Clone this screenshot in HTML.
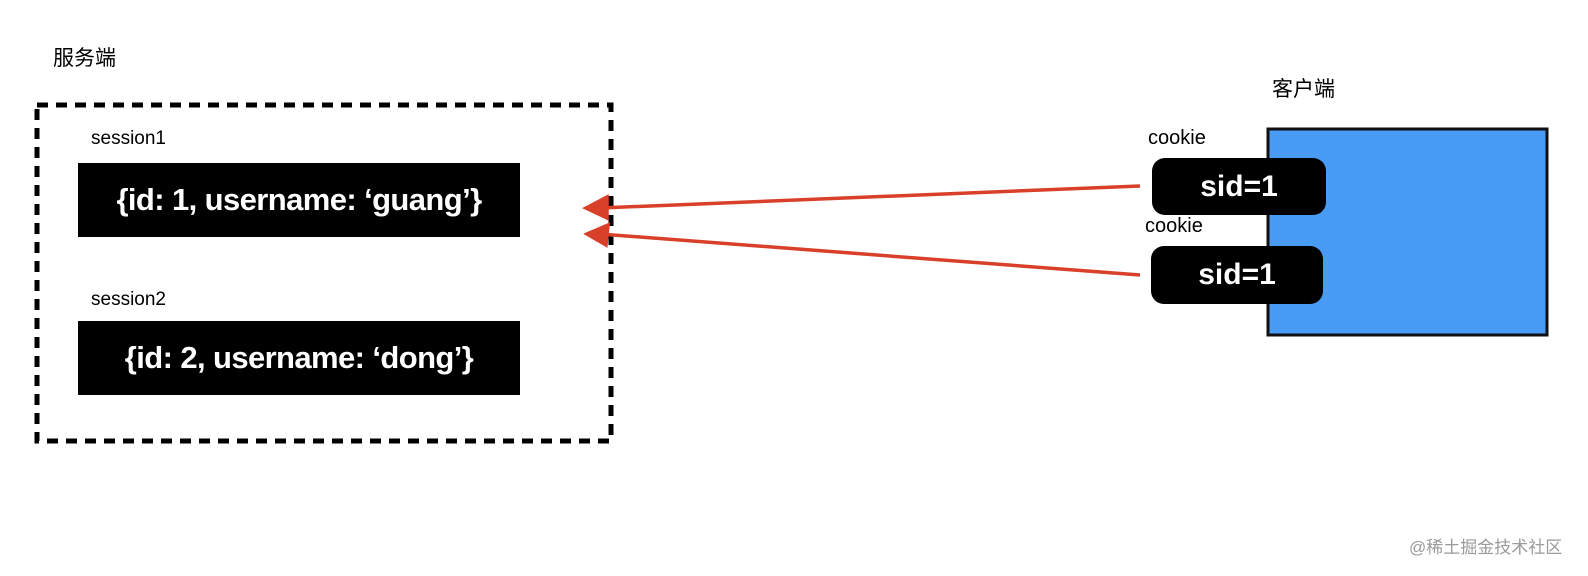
<!DOCTYPE html>
<html><head><meta charset="utf-8"><style>
html,body{margin:0;padding:0;background:#fff;}
body{width:1588px;height:576px;position:relative;overflow:hidden;font-family:"Liberation Sans","Noto Sans CJK SC",sans-serif;}
.t{position:absolute;white-space:nowrap;line-height:1;}
.blk{position:absolute;background:#000;color:#fff;display:flex;align-items:center;justify-content:center;font-size:29px;}
.sess{font-weight:bold;font-size:31px;letter-spacing:-0.6px;}
</style></head><body>
<svg width="1588" height="576" style="position:absolute;left:0;top:0">
  <rect x="37" y="105" width="574" height="336" fill="none" stroke="#000" stroke-width="5" stroke-dasharray="11 8"/>
  <rect x="1268" y="129" width="279" height="206" fill="#489cf4" stroke="#111" stroke-width="3"/>
  <g stroke="#d9402a" stroke-width="3.5" fill="#d9402a">
    <line x1="1140" y1="186" x2="600" y2="208"/>
    <polygon points="586,208 607,197 607,218"/>
    <line x1="1140" y1="275" x2="600" y2="234"/>
    <polygon points="587,234 608,225 606,245"/>
  </g>
</svg>
<div class="t" style="left:53px;top:48px;font-size:21px">服务端</div>
<div class="t" style="left:91px;top:129px;font-size:19px">session1</div>
<div class="blk sess" style="left:78px;top:163px;width:442px;height:74px">{id: 1, username: ‘guang’}</div>
<div class="t" style="left:91px;top:290px;font-size:19px">session2</div>
<div class="blk sess" style="left:78px;top:321px;width:442px;height:74px">{id: 2, username: ‘dong’}</div>
<div class="t" style="left:1272px;top:79px;font-size:21px">客户端</div>
<div class="t" style="left:1148px;top:128px;font-size:20px">cookie</div>
<div class="blk" style="left:1152px;top:158px;width:174px;height:57px;border-radius:13px;font-weight:bold;font-size:30px">sid=1</div>
<div class="t" style="left:1145px;top:216px;font-size:20px">cookie</div>
<div class="blk" style="left:1151px;top:246px;width:172px;height:58px;border-radius:13px;font-weight:bold;font-size:30px">sid=1</div>
<div class="t" style="left:1409px;top:539px;font-size:17px;color:#9a9a9a">@稀土掘金技术社区</div>
</body></html>
